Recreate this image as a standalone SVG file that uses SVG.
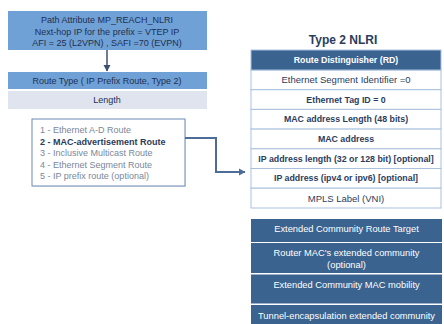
<svg xmlns="http://www.w3.org/2000/svg" width="444" height="324" viewBox="0 0 444 324">
<style>
text{font-family:"Liberation Sans",Arial,sans-serif;text-anchor:middle}
.lb{fill:#6fa0d6}
.t1{font-size:9px;fill:#1f3050}
.row{fill:#ffffff;stroke:#a9c0df;stroke-width:1}
.tt{font-size:9.5px;fill:#2b3d5e}
.tb{font-size:8.8px;fill:#2b3d5e;font-weight:bold}
.dk{fill:#3b6390}
.wt{font-size:9.3px;fill:#ffffff}
.li{font-size:9px;fill:#7a8799;text-anchor:start}
.con{fill:none;stroke:#4d6d98;stroke-width:2}
</style>
<defs>
<marker id="ah" markerWidth="8" markerHeight="8" refX="6" refY="4" orient="auto" markerUnits="userSpaceOnUse">
<path d="M0,0.5 L6.5,4 L0,7.5 Z" fill="#4d6d98"/>
</marker>
<marker id="ah2" markerWidth="8" markerHeight="8" refX="6" refY="4" orient="auto" markerUnits="userSpaceOnUse">
<path d="M0,0.5 L6.5,4 L0,7.5 Z" fill="#3d4f70"/>
</marker>
</defs>
<rect width="444" height="324" fill="#ffffff"/>

<g id="path-attr">
<rect class="lb" x="8" y="11" width="199" height="39"/>
<text class="t1" x="107" y="23">Path Attribute MP_REACH_NLRI</text>
<text class="t1" x="107" y="35">Next-hop  IP for the prefix = VTEP IP</text>
<text class="t1" x="107" y="46">AFI = 25 (L2VPN) , SAFI =70 (EVPN)</text>
</g>
<g id="route-type">
<rect class="lb" x="8" y="72" width="199" height="17"/>
<text class="t1" x="107" y="83.5">Route Type ( IP Prefix Route, Type 2)</text>
</g>
<g id="length">
<rect x="8" y="91" width="199" height="18" fill="#dfe4ef"/>
<text class="t1" x="107" y="103" fill="#3a4a66">Length</text>
</g>
<g id="route-list">
<rect x="33" y="120" width="153" height="67" fill="#e9edf3"/>
<rect x="32" y="119" width="153" height="67" fill="#ffffff" stroke="#6b89b3" stroke-width="1"/>
<text class="li" x="40" y="133">1 - Ethernet A-D Route</text>
<text class="li" x="40" y="144.5" style="font-weight:bold;fill:#2b3b58">2 - MAC-advertisement Route</text>
<text class="li" x="40" y="156">3 - Inclusive Multicast Route</text>
<text class="li" x="40" y="167.5">4 - Ethernet Segment Route</text>
<text class="li" x="40" y="179">5 - IP prefix route (optional)</text>
</g>

<g id="title">
<text x="343" y="44" style="font-size:12px;font-weight:bold;fill:#2b3d5e">Type 2 NLRI</text>
</g>
<g id="nlri-table">
<rect class="row" x="251" y="70" width="190" height="19.7"/>
<rect class="row" x="251" y="89.7" width="190" height="19.7"/>
<rect class="row" x="251" y="109.4" width="190" height="19.7"/>
<rect class="row" x="251" y="129.1" width="190" height="19.7"/>
<rect class="row" x="251" y="148.8" width="190" height="19.7"/>
<rect class="row" x="251" y="168.5" width="190" height="19.7"/>
<rect class="row" x="251" y="188.2" width="190" height="19.8"/>
<rect x="251" y="50" width="190" height="20" fill="#3b6390" stroke="#a9c0df" stroke-width="1"/>
<text class="wt" x="346" y="63" style="font-weight:bold;font-size:8.8px">Route Distinguisher (RD)</text>
<text class="tt" x="346" y="83">Ethernet Segment Identifier =0</text>
<text class="tb" x="346" y="102.5">Ethernet Tag ID = 0</text>
<text class="tb" x="346" y="122.2">MAC address  Length (48 bits)</text>
<text class="tb" x="346" y="141.9">MAC address</text>
<text class="tb" x="346" y="161.6">IP address length (32 or 128 bit)  [optional]</text>
<text class="tb" x="346" y="181.3">IP address (ipv4 or ipv6)  [optional]</text>
<text class="tt" x="346" y="201.5">MPLS Label (VNI)</text>
</g>
<g id="ext-rt">
<rect class="dk" x="251" y="219" width="191" height="23"/>
<text class="wt" x="346.5" y="231.5">Extended Community Route Target</text>
</g>
<g id="router-mac">
<rect class="dk" x="251" y="243" width="191" height="30"/>
<text class="wt" x="346.5" y="255.5">Router MAC's extended community</text>
<text class="wt" x="346.5" y="267.5">(optional)</text>
</g>
<g id="mac-mobility">
<rect class="dk" x="251" y="274.5" width="191" height="29"/>
<text class="wt" x="346.5" y="287.5">Extended Community  MAC mobility</text>
</g>
<g id="tunnel-encap">
<rect class="dk" x="251" y="305" width="191" height="19"/>
<text class="wt" x="346.5" y="318.5">Tunnel-encapsulation  extended community</text>
</g>

<g id="connectors">
<path d="M107,50 V71" fill="none" stroke="#3d4f70" stroke-width="1.5" marker-end="url(#ah2)"/>
<path class="con" d="M185,138 H216 V172 H245" marker-end="url(#ah)"/>
</g>
</svg>
